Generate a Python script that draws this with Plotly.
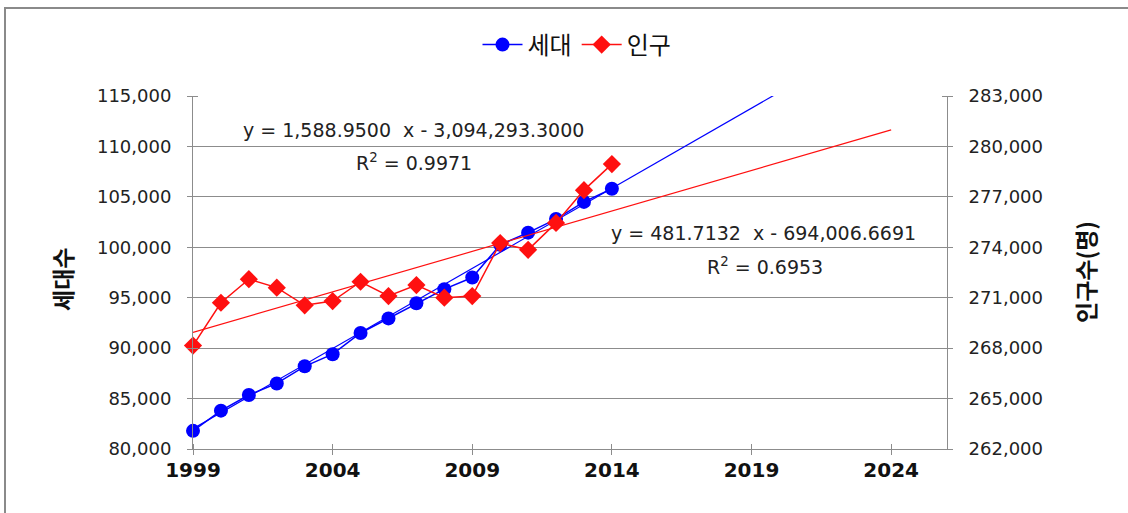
import plotly.graph_objects as go

# 연도별 세대수 / 인구수
years = [1999, 2000, 2001, 2002, 2003, 2004, 2005, 2006, 2007, 2008, 2009, 2010, 2011, 2012, 2013, 2014]
households = [81800, 83800, 85350, 86500, 88200, 89400, 91500, 92950, 94450, 95850, 97000, 100250, 101450, 102800, 104500, 105800]
population = [268150, 270700, 272100, 271600, 270550, 270800, 271950, 271100, 271750, 271000, 271100, 274250, 273850, 275450, 277400, 278950]

# 선형 추세선 계수 (기울기, 절편)
hh_slope, hh_intercept, hh_r2 = 1588.95, -3094293.3, 0.9971
pop_slope, pop_intercept, pop_r2 = 481.7132, -694006.6691, 0.6953
trend_years = [1999, 2024]

x_ticks = [1999, 2004, 2009, 2014, 2019, 2024]

BLUE = "#0000FF"
RED = "#FF1010"
GRID = "#8C8C8C"
NUM_FONT = "DejaVu Sans"
KR_FONT = "Noto Sans CJK KR"

fig = go.Figure()

# 추세선
fig.add_trace(go.Scatter(
    x=trend_years, y=[hh_slope * t + hh_intercept for t in trend_years],
    mode="lines", line=dict(color=BLUE, width=1.2), showlegend=False, hoverinfo="skip",
))
fig.add_trace(go.Scatter(
    x=trend_years, y=[pop_slope * t + pop_intercept for t in trend_years],
    mode="lines", line=dict(color=RED, width=1.2), showlegend=False, hoverinfo="skip",
    yaxis="y2",
))

# 실측 데이터
fig.add_trace(go.Scatter(
    x=years, y=households, name="세대", mode="lines+markers",
    line=dict(color=BLUE, width=1.5),
    marker=dict(symbol="circle", size=14, color=BLUE),
    cliponaxis=False,
))
fig.add_trace(go.Scatter(
    x=years, y=population, name="인구", mode="lines+markers",
    line=dict(color=RED, width=1.5),
    marker=dict(symbol="diamond", size=14, color=RED),
    cliponaxis=False, yaxis="y2",
))

L, R, T, B = 193, 181, 96, 64
W, H = 1128, 513
pw, ph = W - L - R, H - T - B


def px(xp):
    return (xp - L) / pw


def py(yp):
    return (H - B - yp) / ph


def eq_text(slope, intercept):
    sign = "-" if intercept < 0 else "+"
    return f"y = {slope:,.4f}  x {sign} {abs(intercept):,.4f}"


annotations = [
    dict(text=eq_text(hh_slope, hh_intercept), x=px(413), y=py(130)),
    dict(text=f"R<sup>2</sup> = {hh_r2:.4f}", x=px(414), y=py(162)),
    dict(text=eq_text(pop_slope, pop_intercept), x=px(763), y=py(233)),
    dict(text=f"R<sup>2</sup> = {pop_r2:.4f}", x=px(765), y=py(266)),
]
for a in annotations:
    a.update(xref="paper", yref="paper", showarrow=False, xanchor="center", yanchor="middle",
             font=dict(family=NUM_FONT, size=19, color="#222222"))

# 축 제목
annotations.append(dict(text="<b>세대수</b>", x=px(62), y=py(280), xref="paper", yref="paper",
                        showarrow=False, textangle=-90, xanchor="center", yanchor="middle",
                        font=dict(family=KR_FONT, size=23, color="#111111")))
annotations.append(dict(text="<b>인구수(명)</b>", x=px(1085), y=py(272), xref="paper", yref="paper",
                        showarrow=False, textangle=-90, xanchor="center", yanchor="middle",
                        font=dict(family=KR_FONT, size=23, color="#111111")))

tick_common = dict(ticks="outside", ticklen=5, tickcolor=GRID, tickwidth=1,
                   showline=True, linecolor=GRID, linewidth=1)

fig.update_layout(
    width=W, height=H,
    margin=dict(l=L, r=R, t=T, b=B, autoexpand=False),
    paper_bgcolor="white", plot_bgcolor="white",
    showlegend=True,
    legend=dict(orientation="h", x=px(577), y=py(45), xanchor="center", yanchor="middle",
                font=dict(family=KR_FONT, size=24, color="#111111"),
                itemwidth=40, tracegroupgap=0, bgcolor="rgba(0,0,0,0)"),
    xaxis=dict(range=[1999, 2026], tickvals=x_ticks, showgrid=False, zeroline=False,
               tickfont=dict(family="DejaVu Sans", size=20, color="#111111", weight="bold"),
               minor=dict(ticks="inside", ticklen=5, tickcolor=GRID, tickvals=x_ticks),
               ticklabelstandoff=-2, **tick_common),
    yaxis=dict(range=[80000, 115000], tick0=80000, dtick=5000, tickformat=",d", showgrid=True,
               gridcolor=GRID, gridwidth=1, zeroline=False,
               tickfont=dict(family=NUM_FONT, size=18, color="#222222"),
               minor=dict(ticks="inside", ticklen=5, tickcolor=GRID, tick0=80000, dtick=5000),
               ticklabelstandoff=12, **tick_common),
    yaxis2=dict(range=[262000, 283000], tick0=262000, dtick=3000, tickformat=",d", overlaying="y",
                side="right", showgrid=False, zeroline=False,
                tickfont=dict(family=NUM_FONT, size=18, color="#222222"),
                minor=dict(ticks="inside", ticklen=5, tickcolor=GRID, tick0=262000, dtick=3000),
                ticklabelstandoff=12, **tick_common),
    annotations=annotations,
    shapes=[dict(type="rect", xref="paper", yref="paper",
                 x0=px(5), x1=px(1140), y0=py(530), y1=py(8),
                 line=dict(color="#8A8A8A", width=2), layer="below")],
)

fig.write_html("out.html")
